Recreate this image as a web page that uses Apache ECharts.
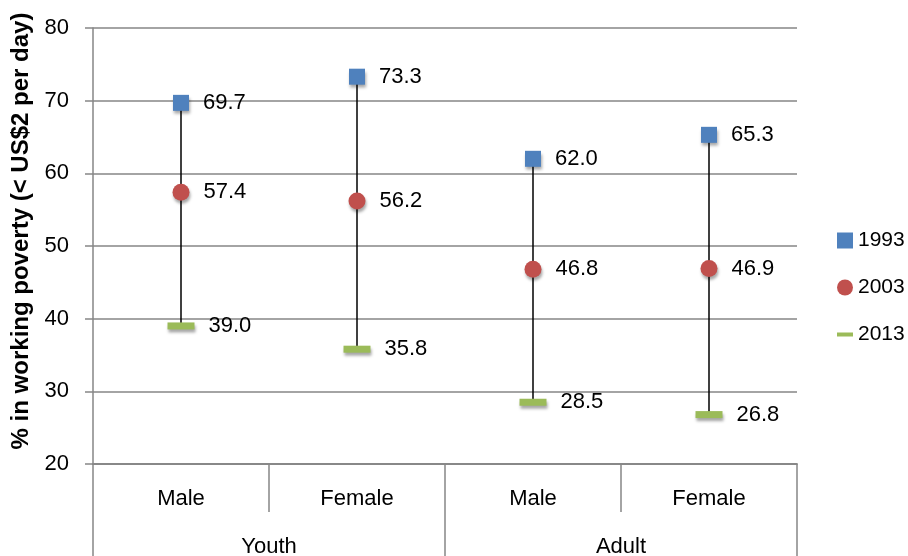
<!DOCTYPE html>
<html><head><meta charset="utf-8">
<script src="https://cdn.jsdelivr.net/npm/echarts@6/dist/echarts.min.js"></script>
<style>html,body{margin:0;padding:0;background:#fff}#c{width:908px;height:556px}</style>
</head><body><div id="c"></div>
<script>
const categories = ['Male', 'Female', 'Male', 'Female'];
const groups = ['Youth', 'Adult'];
const v1993 = [69.7, 73.3, 62.0, 65.3];
const v2003 = [57.4, 56.2, 46.8, 46.9];
const v2013 = [39.0, 35.8, 28.5, 26.8];
const seriesNames = ['1993', '2003', '2013'];
const yTitle = '% in working poverty (< US$2 per day)';

const FONT = '"Liberation Sans", Arial, sans-serif';
const AX = '#868686';
const shadow = {opacity: 1, shadowBlur: 3, shadowOffsetX: 1, shadowOffsetY: 3, shadowColor: 'rgba(0,0,0,0.35)'};
const lbl = {show: true, position: 'right', distance: 14, color: '#000', fontSize: 22, fontFamily: FONT,
  formatter: p => p.value[1].toFixed(1)};

const hiLo = categories.map((c, i) => [i, Math.max(v1993[i], v2003[i], v2013[i]), Math.min(v1993[i], v2003[i], v2013[i])]);

const chart = echarts.init(document.getElementById('c'));
chart.setOption({
  animation: false,
  textStyle: {fontFamily: FONT},
  grid: {left: 93, right: 111, top: 28, bottom: 92, containLabel: false, outerBoundsMode: 'none'},
  legend: {
    orient: 'vertical', left: 837, top: 230, padding: 0, itemGap: 26, itemWidth: 16, itemHeight: 16,
    textStyle: {fontSize: 21, color: '#000', fontFamily: FONT},
    data: [
      {name: '1993', icon: 'rect'},
      {name: '2003', icon: 'circle'},
      {name: '2013', icon: 'path://M0,0L16,0M0,6L16,6L16,10L0,10ZM0,16L16,16'}
    ]
  },
  xAxis: [
    {type: 'category', data: categories, position: 'bottom',
     axisLine: {show: true, lineStyle: {color: AX, width: 1.5}},
     axisTick: {show: true, interval: 0, length: 48, lineStyle: {color: AX, width: 1.5}},
     axisLabel: {interval: 0, margin: 24, color: '#000', fontSize: 22, fontFamily: FONT},
     splitLine: {show: false}},
    {type: 'category', data: groups, position: 'bottom',
     axisLine: {show: true, lineStyle: {color: AX, width: 1.5}},
     axisTick: {show: true, interval: 0, length: 95, lineStyle: {color: AX, width: 1.5}},
     axisLabel: {interval: 0, margin: 72, color: '#000', fontSize: 22, fontFamily: FONT},
     splitLine: {show: false}}
  ],
  yAxis: {
    type: 'value', min: 20, max: 80, interval: 10,
    name: yTitle, nameLocation: 'middle', nameGap: 58,
    nameTextStyle: {fontSize: 24, fontWeight: 'bold', color: '#000', fontFamily: FONT, padding: [0, 0, 0, 30]},
    axisLine: {show: true, lineStyle: {color: AX, width: 1.5}},
    axisTick: {show: true, length: 8, lineStyle: {color: AX, width: 1.5}},
    axisLabel: {margin: 24, color: '#000', fontSize: 22, fontFamily: FONT},
    splitLine: {show: true, lineStyle: {color: AX, width: 1.5}}
  },
  series: [
    {type: 'custom', name: 'hilo', z: 1, silent: true, xAxisIndex: 0,
     renderItem: (params, api) => {
       const a = api.coord([api.value(0), api.value(1)]);
       const b = api.coord([api.value(0), api.value(2)]);
       return {type: 'line', shape: {x1: a[0], y1: a[1], x2: b[0], y2: b[1]},
               style: {stroke: '#000', lineWidth: 1.5}};
     },
     data: hiLo},
    {type: 'scatter', name: seriesNames[0], z: 3, symbol: 'rect', symbolSize: 16,
     itemStyle: Object.assign({color: '#4F81BD'}, shadow), label: lbl,
     data: v1993.map((v, i) => [i, v])},
    {type: 'scatter', name: seriesNames[1], z: 3, symbol: 'circle', symbolSize: 17,
     itemStyle: Object.assign({color: '#C0504D'}, shadow), label: lbl,
     data: v2003.map((v, i) => [i, v])},
    {type: 'scatter', name: seriesNames[2], z: 3, symbol: 'rect', symbolSize: [27, 7],
     itemStyle: Object.assign({color: '#9BBB59'}, shadow), label: lbl,
     data: v2013.map((v, i) => [i, v])}
  ]
});
</script></body></html>
